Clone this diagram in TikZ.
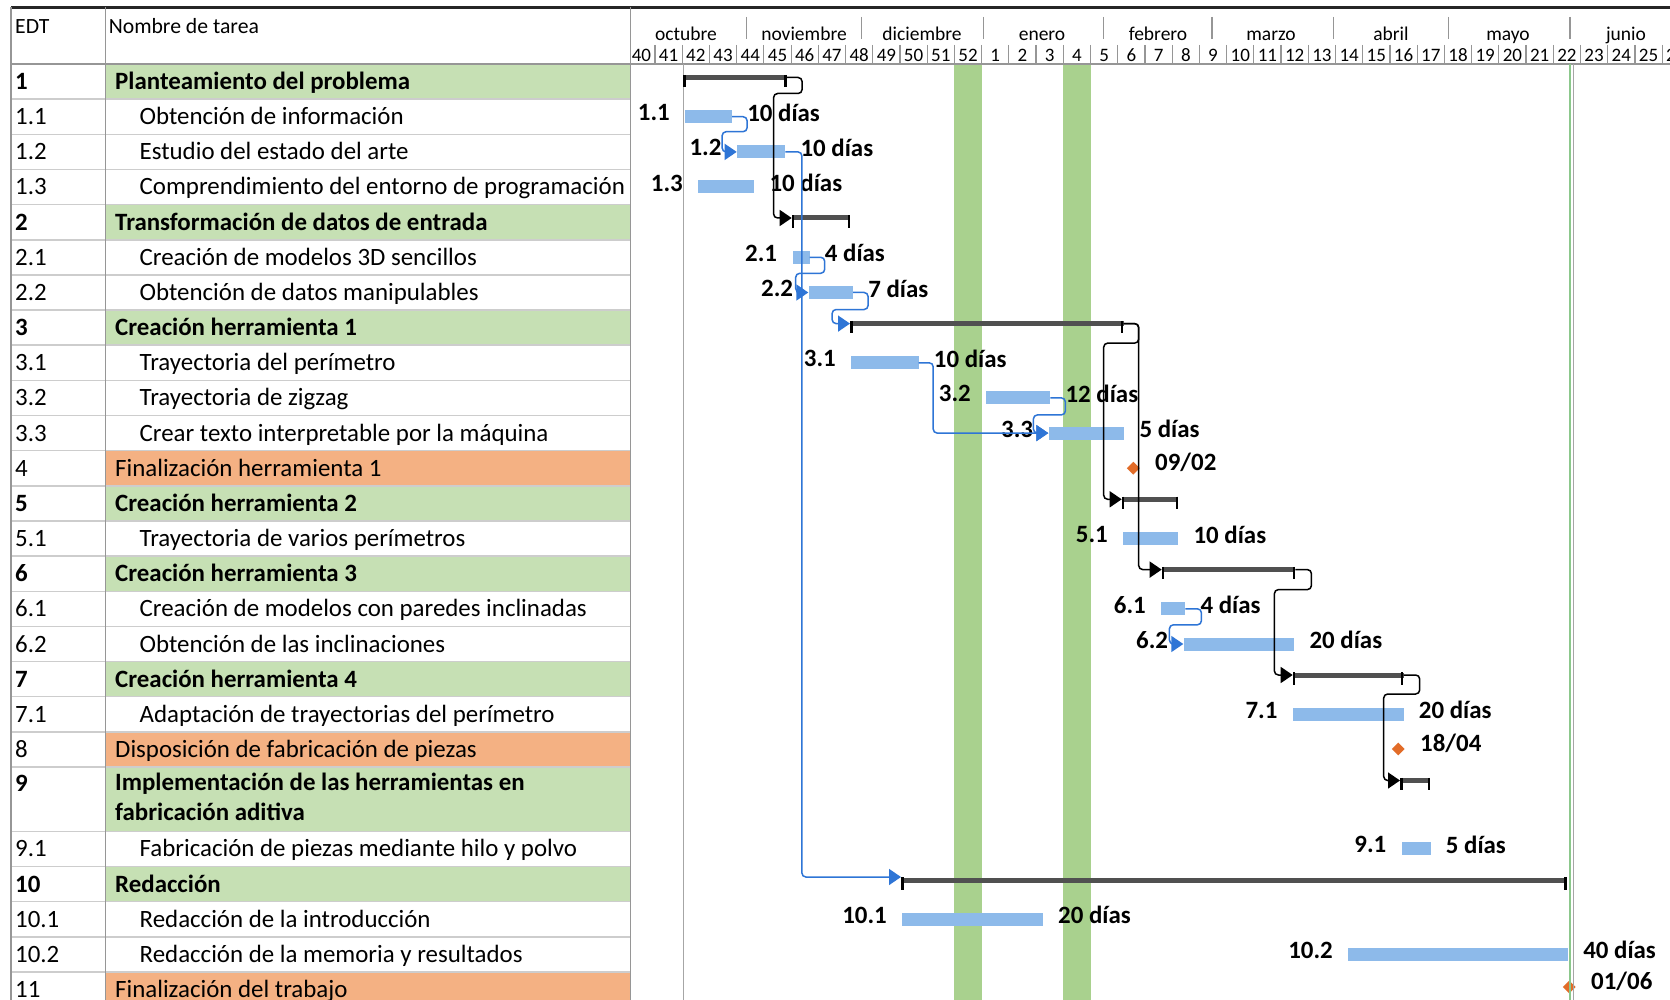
\documentclass[tikz,border=0pt]{standalone}
\usepackage{fontspec}
\setmainfont{Carlito}
\usetikzlibrary{arrows.meta,shapes.geometric}

\definecolor{verdefila}{RGB}{198,224,180}
\definecolor{naranjafila}{RGB}{244,177,131}
\definecolor{azulbarra}{RGB}{141,186,234}
\definecolor{azullink}{RGB}{46,117,214}
\definecolor{grisresumen}{RGB}{80,80,80}
\definecolor{verdefranja}{RGB}{169,209,142}
\definecolor{verdelinea}{RGB}{140,200,140}
\definecolor{naranjahito}{RGB}{226,108,40}
\definecolor{lineatabla}{RGB}{205,205,205}
\definecolor{bordetabla}{RGB}{150,150,150}

\begin{document}
\begin{tikzpicture}[x=1pt, y=-1pt,
  every node/.style={inner sep=0pt, font=\fontsize{24.9}{29.6}\selectfont},
  edt/.style={anchor=base west},
  edtg/.style={anchor=base west, font=\bfseries\fontsize{24.9}{29.6}\selectfont},
  nomt/.style={anchor=base west},
  nomg/.style={anchor=base west, font=\bfseries\fontsize{24.9}{29.6}\selectfont},
  cab/.style={anchor=base west, font=\fontsize{21.7}{24}\selectfont},
  mes/.style={anchor=base, font=\fontsize{19.5}{21}\selectfont},
  semana/.style={anchor=base, font=\fontsize{19}{21}\selectfont},
  tarea/.style={anchor=west, fill=azulbarra, minimum height=13pt},
  grupo/.style={anchor=west, fill=grisresumen, minimum height=5pt},
  hito/.style={diamond, fill=naranjahito, minimum size=13pt},
  every label/.style={font=\bfseries\fontsize{24.9}{29.6}\selectfont, yshift=4pt},
  label distance=15pt,
  enlace/.style={azullink, line width=1.5pt, rounded corners=4pt, -{Triangle[length=12pt,width=16pt]}},
  enlaceg/.style={black, line width=1.5pt, rounded corners=4pt, -{Triangle[length=12pt,width=16pt]}},
  marca/.style={black, line width=2.5pt}
]
\useasboundingbox (0,0) rectangle (1670,1000);
\clip (0,0) rectangle (1670,1000);
\fill[white] (0,0) rectangle (1670,1000);

% semanas no laborables
\fill[verdefranja] (954.4,64) rectangle (981.6,1000);
\fill[verdefranja] (1063.3,64) rectangle (1090.5,1000);

% filas de resumen y de hitos
\fill[verdefila] (105.5,64) rectangle (630.5,99.2);
\fill[verdefila] (105.5,204.6) rectangle (630.5,239.8);
\fill[verdefila] (105.5,310.1) rectangle (630.5,345.2);
\fill[verdefila] (105.5,485.8) rectangle (630.5,521.0);
\fill[verdefila] (105.5,556.1) rectangle (630.5,591.3);
\fill[verdefila] (105.5,661.6) rectangle (630.5,696.7);
\fill[verdefila] (105.5,767.0) rectangle (630.5,831.3);
\fill[verdefila] (105.5,866.5) rectangle (630.5,901.6);
\fill[naranjafila] (105.5,450.7) rectangle (630.5,485.8);
\fill[naranjafila] (105.5,731.9) rectangle (630.5,767.0);
\fill[naranjafila] (105.5,971.9) rectangle (630.5,1007);

\foreach \y in {99.2,134.3,169.5,204.6,239.8,274.9,310.1,345.2,380.4,415.5,450.7,485.8,521.0,556.1,591.3,626.4,661.6,696.7,731.9,767.0,831.3,866.5,901.6,936.8,971.9}
  \draw[lineatabla, line width=1.5pt] (11,\y) -- (630.5,\y);

% cabecera
\draw[black!85, line width=2.5pt] (11,7.5) -- (1670,7.5);
\draw[bordetabla, line width=1.5pt] (11,64) -- (1670,64);
\draw[bordetabla, line width=1.5pt] (11,7.5) -- (11,1000);
\draw[bordetabla, line width=1.5pt] (105.5,7.5) -- (105.5,1000);
\draw[bordetabla, line width=1.5pt] (630.5,7.5) -- (630.5,1000);
\node[cab] (hedt) at (15,34) {EDT};
\node[cab] (hnom) at (108.6,34) {Nombre de tarea};

\foreach \x in {746.7,861.7,983.3,1103.3,1212,1333.3,1448.3,1570}
  \draw[bordetabla, line width=1.2pt] (\x,17) -- (\x,39);
\foreach \x/\m in {686/octubre,804/noviembre,922/diciembre,1042/enero,1158/febrero,1271/marzo,1391/abril,1508/mayo,1626/junio}
  \node[mes] (\m) at (\x,40.5) {\m};
\foreach \i in {0,...,37}
  \draw[bordetabla, line width=1.2pt] ({655+27.22*\i},45) -- ++(0,19);
\foreach \i in {0,...,38} {
  \pgfmathtruncatemacro\s{\i<13 ? 40+\i : \i-12}
  \node[semana] (s\i) at ({641.4+27.22*\i},61.5) {\s};
}

% inicio del proyecto
\draw[gray!70, line width=1.5pt] (683.3,64) -- (683.3,1000);

% tabla de tareas
\node[edtg] (e1) at (15,89.6) {1};      \node[nomg] (n1) at (115,89.6) {Planteamiento del problema};
\node[edt] (e11) at (15,124.7) {1.1};   \node[nomt] (n11) at (139.5,124.7) {Obtención de información};
\node[edt] (e12) at (15,159.9) {1.2};   \node[nomt] (n12) at (139.5,159.9) {Estudio del estado del arte};
\node[edt] (e13) at (15,195.0) {1.3};   \node[nomt] (n13) at (139.5,195.0) {Comprendimiento del entorno de programación};
\node[edtg] (e2) at (15,230.2) {2};     \node[nomg] (n2) at (115,230.2) {Transformación de datos de entrada};
\node[edt] (e21) at (15,265.3) {2.1};   \node[nomt] (n21) at (139.5,265.3) {Creación de modelos 3D sencillos};
\node[edt] (e22) at (15,300.5) {2.2};   \node[nomt] (n22) at (139.5,300.5) {Obtención de datos manipulables};
\node[edtg] (e3) at (15,335.6) {3};     \node[nomg] (n3) at (115,335.6) {Creación herramienta 1};
\node[edt] (e31) at (15,370.8) {3.1};   \node[nomt] (n31) at (139.5,370.8) {Trayectoria del perímetro};
\node[edt] (e32) at (15,405.9) {3.2};   \node[nomt] (n32) at (139.5,405.9) {Trayectoria de zigzag};
\node[edt] (e33) at (15,441.1) {3.3};   \node[nomt] (n33) at (139.5,441.1) {Crear texto interpretable por la máquina};
\node[edt] (e4) at (15,476.2) {4};      \node[nomt] (n4) at (115,476.2) {Finalización herramienta 1};
\node[edtg] (e5) at (15,511.4) {5};     \node[nomg] (n5) at (115,511.4) {Creación herramienta 2};
\node[edt] (e51) at (15,546.5) {5.1};   \node[nomt] (n51) at (139.5,546.5) {Trayectoria de varios perímetros};
\node[edtg] (e6) at (15,581.7) {6};     \node[nomg] (n6) at (115,581.7) {Creación herramienta 3};
\node[edt] (e61) at (15,616.8) {6.1};   \node[nomt] (n61) at (139.5,616.8) {Creación de modelos con paredes inclinadas};
\node[edt] (e62) at (15,652.0) {6.2};   \node[nomt] (n62) at (139.5,652.0) {Obtención de las inclinaciones};
\node[edtg] (e7) at (15,687.1) {7};     \node[nomg] (n7) at (115,687.1) {Creación herramienta 4};
\node[edt] (e71) at (15,722.3) {7.1};   \node[nomt] (n71) at (139.5,722.3) {Adaptación de trayectorias del perímetro};
\node[edt] (e8) at (15,757.4) {8};      \node[nomt] (n8) at (115,757.4) {Disposición de fabricación de piezas};
\node[edtg] (e9) at (15,791.0) {9};
\node[nomg, anchor=west, align=left] (n9) at (115,797) {Implementación de las herramientas en\\fabricación aditiva};
\node[edt] (e91) at (15,856.9) {9.1};   \node[nomt] (n91) at (139.5,856.9) {Fabricación de piezas mediante hilo y polvo};
\node[edtg] (e10) at (15,892.0) {10};   \node[nomg] (n10) at (115,892.0) {Redacción};
\node[edt] (e101) at (15,927.2) {10.1}; \node[nomt] (n101) at (139.5,927.2) {Redacción de la introducción};
\node[edt] (e102) at (15,962.3) {10.2}; \node[nomt] (n102) at (139.5,962.3) {Redacción de la memoria y resultados};
\node[edt] (e11b) at (15,997.5) {11};   \node[nomt] (n11b) at (115,997.5) {Finalización del trabajo};

% barras de resumen
\node[grupo, minimum width=103.7pt] (g1) at (683,77.5) {};
\node[grupo, minimum width=58.3pt] (g2) at (791.7,218) {};
\node[grupo, minimum width=273.3pt] (g3) at (850,323.6) {};
\node[grupo, minimum width=56.3pt] (g5) at (1121.7,499.3) {};
\node[grupo, minimum width=133.3pt] (g6) at (1161.7,569.6) {};
\node[grupo, minimum width=110.6pt] (g7) at (1292.7,675) {};
\node[grupo, minimum width=30pt] (g9) at (1400,780.5) {};
\node[grupo, minimum width=665.6pt] (g10) at (901,880) {};
\foreach \g in {g1,g2,g3,g5,g6,g7,g9,g10} {
  \draw[marca] ([xshift=1.25pt]\g.north west) -- ++(0,12.5);
  \draw[marca] ([xshift=-1.5pt]\g.north east) -- ++(0,12.5);
}

% tareas
\node[tarea, minimum width=46.7pt, label=left:1.1, label=right:10 días] (t11) at (685,116.7) {};
\node[tarea, minimum width=48.3pt, label=left:1.2, label=right:10 días] (t12) at (736.7,151.9) {};
\node[tarea, minimum width=56pt, label=left:1.3, label=right:10 días] (t13) at (698,187) {};
\node[tarea, minimum width=17pt, label=left:2.1, label=right:4 días] (t21) at (792.3,257.3) {};
\node[tarea, minimum width=44.4pt, label=left:2.2, label=right:7 días] (t22) at (808.3,292.5) {};
\node[tarea, minimum width=67.3pt, label=left:3.1, label=right:10 días] (t31) at (851,362.8) {};
\node[tarea, minimum width=64pt, label=left:3.2, label=right:12 días] (t32) at (986,397.9) {};
\node[tarea, minimum width=75.7pt, label=left:3.3, label=right:5 días] (t33) at (1048.3,433.1) {};
\node[tarea, minimum width=55pt, label=left:5.1, label=right:10 días] (t51) at (1123,538.5) {};
\node[tarea, minimum width=24pt, label=left:6.1, label=right:4 días] (t61) at (1161,608.8) {};
\node[tarea, minimum width=110.7pt, label=left:6.2, label=right:20 días] (t62) at (1183.3,644) {};
\node[tarea, minimum width=110.6pt, label=left:7.1, label=right:20 días] (t71) at (1292.7,714.3) {};
\node[tarea, minimum width=28.8pt, label=left:9.1, label=right:5 días] (t91) at (1401.5,848.9) {};
\node[tarea, minimum width=140.6pt, label=left:10.1, label=right:20 días] (t101) at (902,919.2) {};
\node[tarea, minimum width=219.7pt, label=left:10.2, label=right:40 días] (t102) at (1348,954.3) {};

% hitos
\node[hito, label={[yshift=2pt]right:09/02}] (m4) at (1133.3,468.2) {};
\node[hito, label={[yshift=2pt]right:18/04}] (m8) at (1398.3,749) {};
\node[hito, label={[yshift=2pt]right:01/06}] (m11) at (1569.3,987) {};

% dependencias
\draw[enlace] (t11.east) -- ++(15,0) |- ++(-25,15) |- (t12.west);
\draw[enlace] (t12.east) -- ++(16.5,0) |- ([yshift=3pt]g10.west);
\draw[enlace] (t21.east) -- ++(15,0) |- ++(-29,16) |- (t22.west);
\draw[enlace] (t22.east) -- ++(15,0) |- ++(-36,17) |- (g3.west);
\draw[enlace] (t31.east) -- ++(14.5,0) |- (t33.west);
\draw[enlace] (t32.east) -- ++(15,0) |- ++(-32,17) |- (t33.west);
\draw[enlace] (t61.east) -- ++(16,0) |- ++(-32,16) |- (t62.west);
\draw[enlaceg] (g1.east) -- ++(15,0) |- ++(-28.5,16) |- (g2.west);
\draw[enlaceg] (g3.east) -- ++(15,0) |- ++(-35,19.5) |- (g5.west);
\draw[enlaceg] (g3.east) -- ++(15,0) |- (g6.west);
\draw[enlaceg] (g6.east) -- ++(16,0) |- ++(-37,20) |- (g7.west);
\draw[enlaceg] (g7.east) -- ++(16,0) |- ++(-36,19) |- (g9.west);

% fecha limite
\draw[verdelinea, line width=1.5pt] (1570,64) -- (1570,1000);
\draw[gray!70, line width=1.5pt] (1573.5,64) -- (1573.5,1000);
\end{tikzpicture}
\end{document}
